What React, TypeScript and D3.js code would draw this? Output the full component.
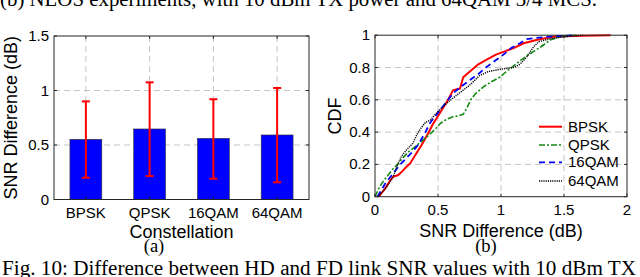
import React from "react";
import * as d3 from "d3";

const categories = ["BPSK", "QPSK", "16QAM", "64QAM"];
const barMeans = [0.552, 0.647, 0.561, 0.592];
const errTop = [0.9, 1.075, 0.92, 1.023];
const errBottom = [0.2, 0.215, 0.19, 0.158];
const leftTicks = [0, 0.5, 1, 1.5];

const bpskX = [0.03, 0.08, 0.12, 0.145, 0.185, 0.22, 0.25, 0.28, 0.33, 0.37, 0.42, 0.46, 0.5, 0.54, 0.58, 0.62, 0.675, 0.7, 0.76, 0.82, 0.89, 0.96, 1.03, 1.1, 1.18, 1.28, 1.41, 1.5, 1.65, 1.87];
const bpskY = [0, 0.05, 0.1, 0.124, 0.134, 0.16, 0.186, 0.207, 0.27, 0.32, 0.39, 0.45, 0.5, 0.55, 0.6, 0.66, 0.67, 0.74, 0.78, 0.82, 0.85, 0.88, 0.9, 0.92, 0.95, 0.97, 0.99, 0.993, 0.997, 1];

const qpskX = [0, 0.03, 0.06, 0.1, 0.14, 0.18, 0.22, 0.27, 0.32, 0.38, 0.44, 0.48, 0.52, 0.57, 0.62, 0.66, 0.7, 0.73, 0.76, 0.8, 0.86, 0.92, 0.99, 1.05, 1.1, 1.15, 1.2, 1.26, 1.32, 1.39, 1.45, 1.5, 1.6];
const qpskY = [0, 0.05, 0.09, 0.13, 0.17, 0.2, 0.24, 0.28, 0.31, 0.35, 0.39, 0.42, 0.455, 0.48, 0.495, 0.5, 0.51, 0.55, 0.6, 0.64, 0.68, 0.71, 0.74, 0.78, 0.81, 0.84, 0.87, 0.9, 0.93, 0.97, 0.985, 0.995, 1];

const qam16X = [0.02, 0.08, 0.15, 0.2, 0.25, 0.3, 0.35, 0.4, 0.44, 0.48, 0.52, 0.58, 0.62, 0.68, 0.75, 0.82, 0.88, 0.95, 1.02, 1.08, 1.15, 1.2, 1.3, 1.45, 1.6];
const qam16Y = [0, 0.08, 0.15, 0.2, 0.24, 0.28, 0.33, 0.4, 0.46, 0.5, 0.54, 0.6, 0.64, 0.68, 0.72, 0.76, 0.8, 0.84, 0.88, 0.92, 0.95, 0.975, 0.985, 0.995, 1];

const qam64X = [0.02, 0.06, 0.1, 0.145, 0.18, 0.21, 0.25, 0.3, 0.33, 0.36, 0.4, 0.44, 0.49, 0.54, 0.65, 0.75, 0.83, 0.9, 1.0, 1.1, 1.15, 1.2, 1.26, 1.3, 1.4, 1.5, 1.65];
const qam64Y = [0, 0.03, 0.07, 0.124, 0.2, 0.25, 0.29, 0.33, 0.38, 0.42, 0.46, 0.475, 0.52, 0.56, 0.63, 0.69, 0.75, 0.775, 0.79, 0.8, 0.82, 0.86, 0.93, 0.96, 0.98, 0.99, 1];

const cdfXTicks = [0, 0.5, 1, 1.5, 2];
const cdfYTicks = [0, 0.2, 0.4, 0.6, 0.8, 1];

const series = [
  { name: "BPSK", xs: bpskX, ys: bpskY, color: "#ff0000", dash: "none", width: 2 },
  { name: "QPSK", xs: qpskX, ys: qpskY, color: "#138a13", dash: "6,2,2,2", width: 1.6 },
  { name: "16QAM", xs: qam16X, ys: qam16Y, color: "#0000ff", dash: "6,4", width: 1.8 },
  { name: "64QAM", xs: qam64X, ys: qam64Y, color: "#000000", dash: "1.2,1", width: 1.4 },
];

const sans = "'Liberation Sans', Arial, Helvetica, sans-serif";
const serif = "'Liberation Serif', 'Times New Roman', serif";
const gridColor = "#c4c4c4";
const axisColor = "#262626";
const tickSize = 15;
const labelSize = 18;

export default function App() {
  const L = { left: 54, right: 309, top: 36, bottom: 199.5 };
  const xb = d3.scaleBand().domain(categories).range([L.left, L.right]).paddingInner(0).paddingOuter(0);
  const yb = d3.scaleLinear().domain([0, 1.5]).range([L.bottom, L.top]);
  const barW = xb.bandwidth() * 0.5;

  const R = { left: 375, right: 627, top: 35.2, bottom: 196.7 };
  const xc = d3.scaleLinear().domain([0, 2]).range([R.left, R.right]);
  const yc = d3.scaleLinear().domain([0, 1]).range([R.bottom, R.top]);
  const line = d3
    .line<[number, number]>()
    .x((d) => xc(d[0]))
    .y((d) => yc(d[1]));

  const legendY = [126.7, 145, 162.3, 181];

  return (
    <svg
      width={640}
      height={277}
      style={{ position: "absolute", left: 0, top: 0, background: "#fff" }}
    >
      <rect x={0} y={0} width={640} height={277} fill="#fff" />
      <text x={0} y={6} fontFamily={serif} fontSize={20} fill="#000" textLength={597} lengthAdjust="spacingAndGlyphs">
        (b) NLOS experiments, with 10 dBm TX power and 64QAM 3/4 MCS.
      </text>

      {/* ---------- Left chart ---------- */}
      {leftTicks
        .filter((t) => t > 0 && t < 1.5)
        .map((t) => (
          <line key={"lg" + t} x1={L.left} x2={L.right} y1={yb(t)} y2={yb(t)} stroke={gridColor} strokeDasharray="6,4" strokeWidth={1} />
        ))}
      {categories.map((c) => (
        <line
          key={"lvg" + c}
          x1={xb(c)! + xb.bandwidth() / 2}
          x2={xb(c)! + xb.bandwidth() / 2}
          y1={L.top}
          y2={L.bottom}
          stroke={gridColor}
          strokeDasharray="6,4"
          strokeWidth={1}
        />
      ))}
      {categories.map((c, i) => (
        <rect
          key={"bar" + c}
          x={xb(c)! + xb.bandwidth() / 2 - barW / 2}
          y={yb(barMeans[i])}
          width={barW}
          height={yb(0) - yb(barMeans[i])}
          fill="#0000ff"
          stroke="#333"
          strokeWidth={0.6}
        />
      ))}
      {categories.map((c, i) => {
        const cx = xb(c)! + xb.bandwidth() / 2;
        return (
          <g key={"err" + c} stroke="#ff0000" strokeWidth={2}>
            <line x1={cx} x2={cx} y1={yb(errTop[i])} y2={yb(errBottom[i])} />
            <line x1={cx - 4} x2={cx + 4} y1={yb(errTop[i])} y2={yb(errTop[i])} />
            <line x1={cx - 4} x2={cx + 4} y1={yb(errBottom[i])} y2={yb(errBottom[i])} />
          </g>
        );
      })}
      <rect x={L.left} y={L.top} width={L.right - L.left} height={L.bottom - L.top} fill="none" stroke={axisColor} strokeWidth={1} />
      {leftTicks.map((t) => (
        <g key={"lt" + t}>
          <line x1={L.left} x2={L.left + 3} y1={yb(t)} y2={yb(t)} stroke={axisColor} />
          <line x1={L.right} x2={L.right - 3} y1={yb(t)} y2={yb(t)} stroke={axisColor} />
          <text x={L.left - 5} y={yb(t) + 5} textAnchor="end" fontFamily={sans} fontSize={tickSize} fill="#000">
            {String(t)}
          </text>
        </g>
      ))}
      {categories.map((c) => {
        const cx = xb(c)! + xb.bandwidth() / 2;
        return (
          <g key={"lxt" + c}>
            <line x1={cx} x2={cx} y1={L.bottom} y2={L.bottom - 3} stroke={axisColor} />
            <line x1={cx} x2={cx} y1={L.top} y2={L.top + 3} stroke={axisColor} />
            <text x={cx} y={218.3} textAnchor="middle" fontFamily={sans} fontSize={tickSize} fill="#000">
              {c}
            </text>
          </g>
        );
      })}
      <text x={(L.left + L.right) / 2} y={238.3} textAnchor="middle" fontFamily={sans} fontSize={labelSize} fill="#000">
        Constellation
      </text>
      <text
        transform={`translate(17, ${(L.top + L.bottom) / 2}) rotate(-90)`}
        textAnchor="middle"
        fontFamily={sans}
        fontSize={labelSize}
        fill="#000"
      >
        SNR Difference (dB)
      </text>
      <text x={154} y={252} textAnchor="middle" fontFamily={serif} fontSize={18.5} fill="#000">
        (a)
      </text>

      {/* ---------- Right chart ---------- */}
      {cdfYTicks
        .filter((t) => t > 0 && t < 1)
        .map((t) => (
          <line key={"rg" + t} x1={R.left} x2={R.right} y1={yc(t)} y2={yc(t)} stroke={gridColor} strokeDasharray="6,4" />
        ))}
      {cdfXTicks
        .filter((t) => t > 0 && t < 2)
        .map((t) => (
          <line key={"rvg" + t} x1={xc(t)} x2={xc(t)} y1={R.top} y2={R.bottom} stroke={gridColor} strokeDasharray="6,4" />
        ))}
      {series.map((s) => (
        <path
          key={s.name}
          d={line(s.xs.map((x, i) => [x, s.ys[i]] as [number, number])) || ""}
          fill="none"
          stroke={s.color}
          strokeWidth={s.width}
          strokeDasharray={s.dash}
          strokeLinejoin="round"
        />
      ))}
      <rect x={R.left} y={R.top} width={R.right - R.left} height={R.bottom - R.top} fill="none" stroke={axisColor} strokeWidth={1} />
      {cdfYTicks.map((t) => (
        <g key={"ryt" + t}>
          <line x1={R.left} x2={R.left + 3} y1={yc(t)} y2={yc(t)} stroke={axisColor} />
          <line x1={R.right} x2={R.right - 3} y1={yc(t)} y2={yc(t)} stroke={axisColor} />
          <text x={R.left - 5} y={yc(t) + 5} textAnchor="end" fontFamily={sans} fontSize={tickSize} fill="#000">
            {String(t)}
          </text>
        </g>
      ))}
      {cdfXTicks.map((t) => (
        <g key={"rxt" + t}>
          <line x1={xc(t)} x2={xc(t)} y1={R.bottom} y2={R.bottom - 3} stroke={axisColor} />
          <line x1={xc(t)} x2={xc(t)} y1={R.top} y2={R.top + 3} stroke={axisColor} />
          <text x={xc(t)} y={215} textAnchor="middle" fontFamily={sans} fontSize={tickSize} fill="#000">
            {String(t)}
          </text>
        </g>
      ))}
      <text x={(R.left + R.right) / 2} y={236.7} textAnchor="middle" fontFamily={sans} fontSize={labelSize} fill="#000">
        SNR Difference (dB)
      </text>
      <text
        transform={`translate(341, ${(R.top + R.bottom) / 2}) rotate(-90)`}
        textAnchor="middle"
        fontFamily={sans}
        fontSize={labelSize}
        fill="#000"
      >
        CDF
      </text>
      <text x={486} y={252} textAnchor="middle" fontFamily={serif} fontSize={18.5} fill="#000">
        (b)
      </text>
      {series.map((s, i) => (
        <g key={"leg" + s.name}>
          <line x1={539} x2={562} y1={legendY[i]} y2={legendY[i]} stroke={s.color} strokeWidth={s.width} strokeDasharray={s.dash} />
          <text x={568} y={legendY[i] + 5} fontFamily={sans} fontSize={tickSize} fill="#000">
            {s.name}
          </text>
        </g>
      ))}

      <text x={2} y={275} fontFamily={serif} fontSize={20} fill="#000" textLength={634} lengthAdjust="spacingAndGlyphs">
        Fig. 10: Difference between HD and FD link SNR values with 10 dBm TX
      </text>
    </svg>
  );
}
